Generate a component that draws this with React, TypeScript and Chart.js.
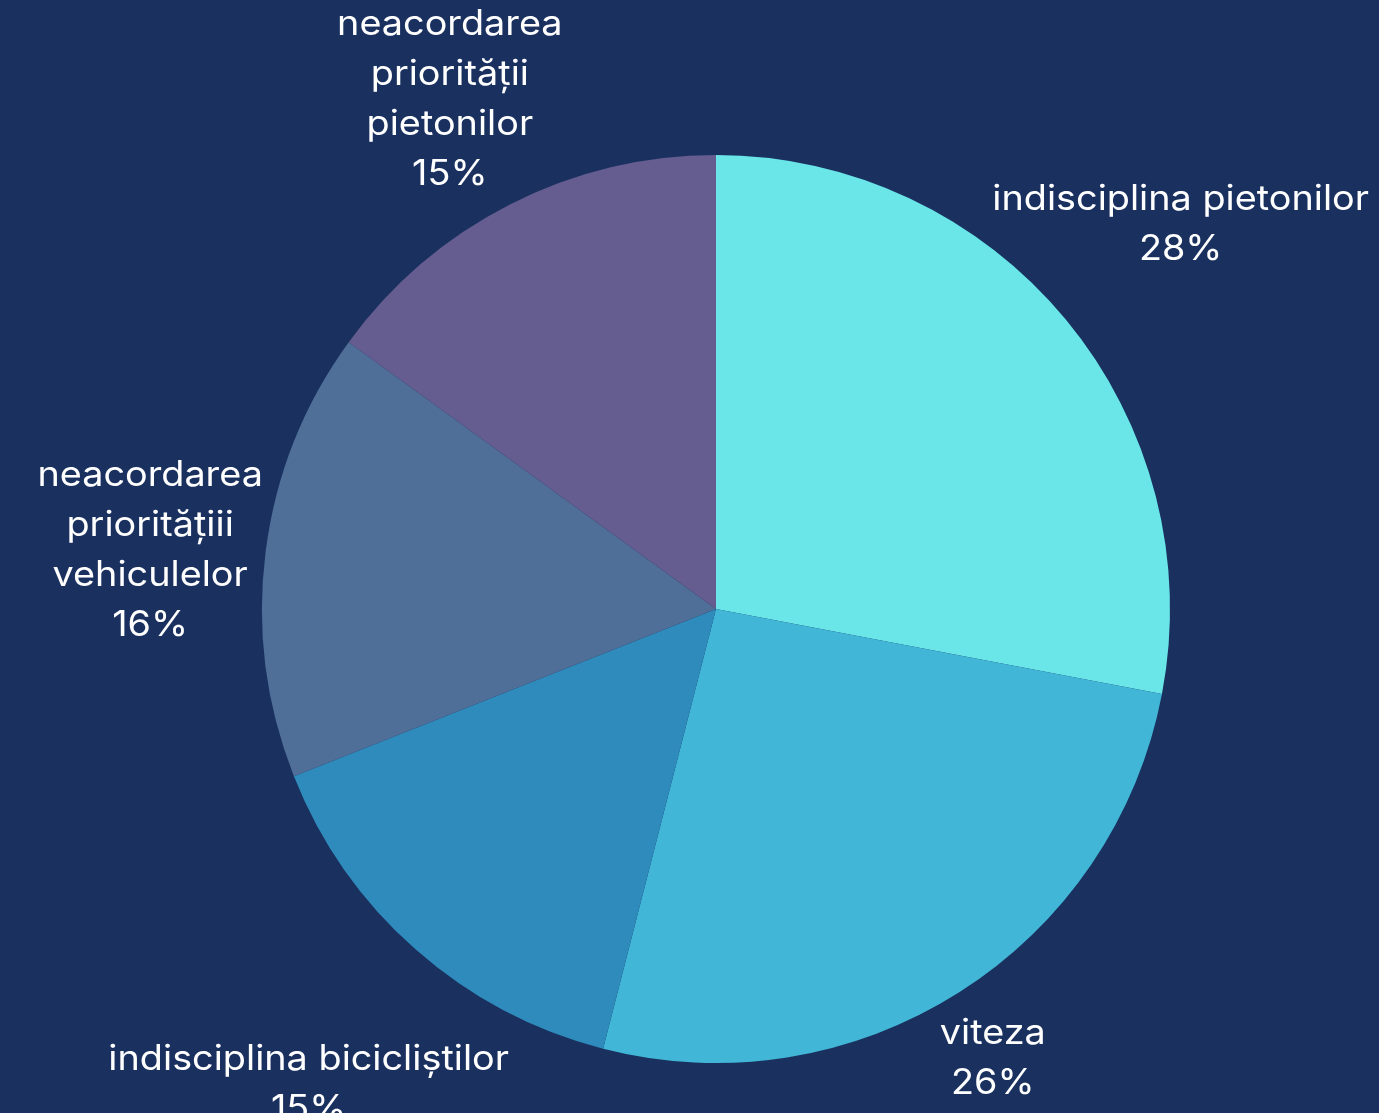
import React, { useEffect, useRef } from "react";
import { Chart, registerables } from "chart.js";

Chart.register(...registerables);

const categories: string[][] = [
  ["indisciplina pietonilor"],
  ["viteza"],
  ["indisciplina bicicli\u0219tilor"],
  ["neacordarea", "priorit\u0103\u021Biii", "vehiculelor"],
  ["neacordarea", "priorit\u0103\u021Bii", "pietonilor"],
];
const shares: number[] = [28, 26, 15, 16, 15];
const sliceColors: string[] = ["#6ae6e8", "#41b6d6", "#2e8bbb", "#4f6f99", "#655c90"];

const BG = "#1a3160";
const FONT = "35px Inter";
const STRETCH = 1.08;
const LINE_H = 50;
const SHIFT_Y = 13;

const labelPlugin = {
  id: "outerLabels",
  afterDatasetsDraw(chart: any) {
    const ctx = chart.ctx as CanvasRenderingContext2D;
    const meta = chart.getDatasetMeta(0);
    const W = chart.width;
    ctx.save();
    ctx.font = FONT;
    ctx.fillStyle = "#ffffff";
    ctx.textAlign = "center";
    ctx.textBaseline = "middle";
    meta.data.forEach((arc: any, i: number) => {
      const p = arc.getProps(["x", "y", "startAngle", "endAngle", "outerRadius"], true);
      const mid = (p.startAngle + p.endAngle) / 2;
      const dx = Math.cos(mid);
      const dy = Math.sin(mid);
      const lines = [...categories[i], shares[i] + "%"];
      const w = Math.max(...lines.map((l) => ctx.measureText(l).width)) * STRETCH;
      const h = lines.length * LINE_H;
      const support = (w / 2) * Math.abs(dx) + (h / 2) * Math.abs(dy);
      let cx = p.x + dx * (p.outerRadius - 8 + support);
      const cy = p.y + dy * (p.outerRadius - 8 + support) + SHIFT_Y;
      const m = 10;
      cx = Math.min(Math.max(cx, m + w / 2), W - m - w / 2);
      lines.forEach((l, k) => {
        ctx.save();
        ctx.translate(cx, cy - h / 2 + LINE_H * (k + 0.5));
        ctx.scale(STRETCH, 1);
        ctx.fillText(l, 0, 0);
        ctx.restore();
      });
    });
    ctx.restore();
  },
};

export default function App() {
  const ref = useRef<HTMLCanvasElement | null>(null);
  useEffect(() => {
    document.body.style.margin = "0";
    document.body.style.background = BG;
    const chart = new Chart(ref.current as HTMLCanvasElement, {
      type: "pie",
      data: {
        labels: categories.map((c) => c.join(" ")),
        datasets: [
          {
            data: shares,
            backgroundColor: sliceColors,
            borderWidth: 0,
          },
        ],
      },
      options: {
        animation: false,
        responsive: false,
        devicePixelRatio: 1,
        layout: { padding: { left: 262, right: 209, top: 155, bottom: 50 } },
        plugins: {
          legend: { display: false },
          tooltip: { enabled: false },
        },
      },
      plugins: [labelPlugin],
    });
    return () => chart.destroy();
  }, []);
  return (
    <div style={{ width: 1379, height: 1113, background: BG }}>
      <canvas ref={ref} width={1379} height={1113} style={{ display: "block" }} />
    </div>
  );
}
